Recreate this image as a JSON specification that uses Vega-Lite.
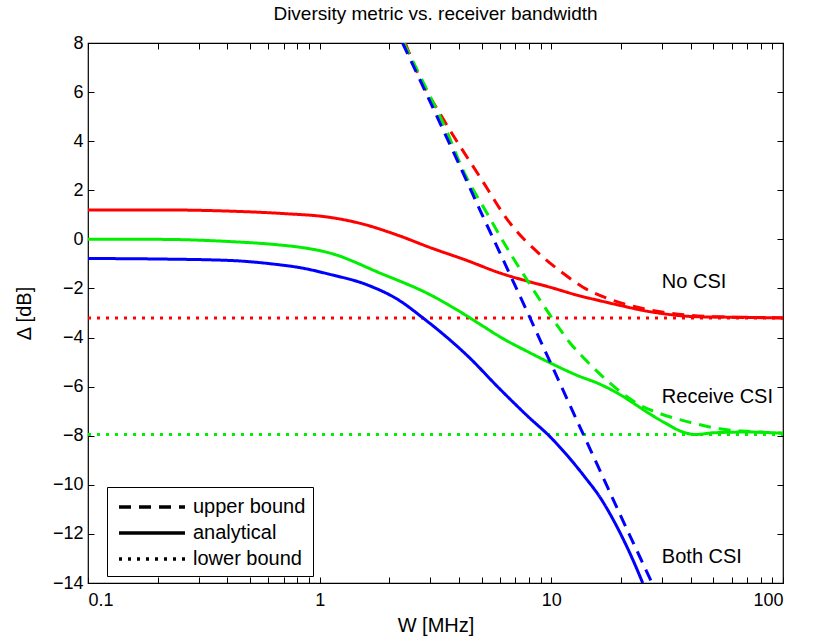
{
  "$schema": "https://vega.github.io/schema/vega-lite/v6.json",
  "width": 695,
  "height": 540,
  "autosize": {"type": "none"},
  "padding": {"left": 88, "top": 43, "right": 30, "bottom": 56},
  "background": "white",
  "config": {
    "font": "Liberation Sans",
    "view": {"stroke": "black", "strokeWidth": 1.2},
    "axis": {"domain": false, "grid": false, "tickColor": "black", "labelColor": "black", "titleColor": "black", "labelFont": "Liberation Sans", "titleFont": "Liberation Sans", "labelFontSize": 18, "titleFontSize": 20, "titleFontWeight": "normal", "tickSize": -6, "tickWidth": 1}
  },
  "title": {"text": "Diversity metric vs. receiver bandwidth", "fontSize": 19, "fontWeight": "normal", "font": "Liberation Sans", "color": "black", "offset": 10},
  "datasets": {
    "curves": [
      {"series": "No CSI", "type": "analytical", "x": 0.1, "y": 1.2},
      {"series": "No CSI", "type": "analytical", "x": 0.2, "y": 1.2},
      {"series": "No CSI", "type": "analytical", "x": 0.41, "y": 1.15},
      {"series": "No CSI", "type": "analytical", "x": 0.7, "y": 1.05},
      {"series": "No CSI", "type": "analytical", "x": 1.1, "y": 0.9},
      {"series": "No CSI", "type": "analytical", "x": 1.5, "y": 0.65},
      {"series": "No CSI", "type": "analytical", "x": 2.2, "y": 0.15},
      {"series": "No CSI", "type": "analytical", "x": 2.99, "y": -0.33},
      {"series": "No CSI", "type": "analytical", "x": 4.32, "y": -0.86},
      {"series": "No CSI", "type": "analytical", "x": 6.0, "y": -1.37},
      {"series": "No CSI", "type": "analytical", "x": 8.0, "y": -1.72},
      {"series": "No CSI", "type": "analytical", "x": 9.87, "y": -1.95},
      {"series": "No CSI", "type": "analytical", "x": 13, "y": -2.28},
      {"series": "No CSI", "type": "analytical", "x": 16.2, "y": -2.5},
      {"series": "No CSI", "type": "analytical", "x": 20, "y": -2.7},
      {"series": "No CSI", "type": "analytical", "x": 25, "y": -2.9},
      {"series": "No CSI", "type": "analytical", "x": 30, "y": -3.02},
      {"series": "No CSI", "type": "analytical", "x": 37, "y": -3.12},
      {"series": "No CSI", "type": "analytical", "x": 45, "y": -3.16},
      {"series": "No CSI", "type": "analytical", "x": 60, "y": -3.17},
      {"series": "No CSI", "type": "analytical", "x": 100, "y": -3.2},

      {"series": "No CSI", "type": "upper bound", "x": 2.34, "y": 8},
      {"series": "No CSI", "type": "upper bound", "x": 2.7, "y": 6.6},
      {"series": "No CSI", "type": "upper bound", "x": 3.37, "y": 4.99},
      {"series": "No CSI", "type": "upper bound", "x": 4.92, "y": 2.54},
      {"series": "No CSI", "type": "upper bound", "x": 6.62, "y": 0.67},
      {"series": "No CSI", "type": "upper bound", "x": 9.2, "y": -0.72},
      {"series": "No CSI", "type": "upper bound", "x": 11.2, "y": -1.37},
      {"series": "No CSI", "type": "upper bound", "x": 13.7, "y": -1.95},
      {"series": "No CSI", "type": "upper bound", "x": 17.4, "y": -2.4},
      {"series": "No CSI", "type": "upper bound", "x": 22, "y": -2.7},
      {"series": "No CSI", "type": "upper bound", "x": 30, "y": -2.96},
      {"series": "No CSI", "type": "upper bound", "x": 40, "y": -3.1},
      {"series": "No CSI", "type": "upper bound", "x": 60, "y": -3.17},
      {"series": "No CSI", "type": "upper bound", "x": 100, "y": -3.2},

      {"series": "No CSI", "type": "lower bound", "x": 0.1, "y": -3.2},
      {"series": "No CSI", "type": "lower bound", "x": 100, "y": -3.2},

      {"series": "Receive CSI", "type": "analytical", "x": 0.1, "y": 0},
      {"series": "Receive CSI", "type": "analytical", "x": 0.2, "y": 0},
      {"series": "Receive CSI", "type": "analytical", "x": 0.41, "y": -0.09},
      {"series": "Receive CSI", "type": "analytical", "x": 0.675, "y": -0.23},
      {"series": "Receive CSI", "type": "analytical", "x": 0.82, "y": -0.32},
      {"series": "Receive CSI", "type": "analytical", "x": 1.1, "y": -0.55},
      {"series": "Receive CSI", "type": "analytical", "x": 1.85, "y": -1.4},
      {"series": "Receive CSI", "type": "analytical", "x": 2.99, "y": -2.25},
      {"series": "Receive CSI", "type": "analytical", "x": 4.04, "y": -2.95},
      {"series": "Receive CSI", "type": "analytical", "x": 5.0, "y": -3.5},
      {"series": "Receive CSI", "type": "analytical", "x": 6.0, "y": -3.97},
      {"series": "Receive CSI", "type": "analytical", "x": 8.0, "y": -4.6},
      {"series": "Receive CSI", "type": "analytical", "x": 9.87, "y": -5.03},
      {"series": "Receive CSI", "type": "analytical", "x": 13, "y": -5.55},
      {"series": "Receive CSI", "type": "analytical", "x": 16.2, "y": -5.9},
      {"series": "Receive CSI", "type": "analytical", "x": 20, "y": -6.35},
      {"series": "Receive CSI", "type": "analytical", "x": 22.5, "y": -6.66},
      {"series": "Receive CSI", "type": "analytical", "x": 26, "y": -7.05},
      {"series": "Receive CSI", "type": "analytical", "x": 31, "y": -7.48},
      {"series": "Receive CSI", "type": "analytical", "x": 37, "y": -7.85},
      {"series": "Receive CSI", "type": "analytical", "x": 42, "y": -7.95},
      {"series": "Receive CSI", "type": "analytical", "x": 50, "y": -7.88},
      {"series": "Receive CSI", "type": "analytical", "x": 70, "y": -7.85},
      {"series": "Receive CSI", "type": "analytical", "x": 100, "y": -7.9},

      {"series": "Receive CSI", "type": "upper bound", "x": 2.31, "y": 8},
      {"series": "Receive CSI", "type": "upper bound", "x": 2.9, "y": 6.1},
      {"series": "Receive CSI", "type": "upper bound", "x": 3.54, "y": 4.4},
      {"series": "Receive CSI", "type": "upper bound", "x": 4.15, "y": 2.83},
      {"series": "Receive CSI", "type": "upper bound", "x": 5.27, "y": 1.07},
      {"series": "Receive CSI", "type": "upper bound", "x": 6.83, "y": -0.75},
      {"series": "Receive CSI", "type": "upper bound", "x": 7.85, "y": -1.65},
      {"series": "Receive CSI", "type": "upper bound", "x": 8.93, "y": -2.47},
      {"series": "Receive CSI", "type": "upper bound", "x": 10.6, "y": -3.5},
      {"series": "Receive CSI", "type": "upper bound", "x": 12.0, "y": -4.2},
      {"series": "Receive CSI", "type": "upper bound", "x": 14.2, "y": -4.95},
      {"series": "Receive CSI", "type": "upper bound", "x": 16.7, "y": -5.6},
      {"series": "Receive CSI", "type": "upper bound", "x": 19.8, "y": -6.2},
      {"series": "Receive CSI", "type": "upper bound", "x": 24.1, "y": -6.75},
      {"series": "Receive CSI", "type": "upper bound", "x": 29.5, "y": -7.1},
      {"series": "Receive CSI", "type": "upper bound", "x": 40.8, "y": -7.48},
      {"series": "Receive CSI", "type": "upper bound", "x": 53.4, "y": -7.72},
      {"series": "Receive CSI", "type": "upper bound", "x": 79.4, "y": -7.85},
      {"series": "Receive CSI", "type": "upper bound", "x": 100, "y": -7.9},

      {"series": "Receive CSI", "type": "lower bound", "x": 0.1, "y": -7.95},
      {"series": "Receive CSI", "type": "lower bound", "x": 100, "y": -7.95},

      {"series": "Both CSI", "type": "analytical", "x": 0.1, "y": -0.78},
      {"series": "Both CSI", "type": "analytical", "x": 0.2, "y": -0.8},
      {"series": "Both CSI", "type": "analytical", "x": 0.41, "y": -0.86},
      {"series": "Both CSI", "type": "analytical", "x": 0.675, "y": -1.04},
      {"series": "Both CSI", "type": "analytical", "x": 0.82, "y": -1.15},
      {"series": "Both CSI", "type": "analytical", "x": 1.1, "y": -1.42},
      {"series": "Both CSI", "type": "analytical", "x": 1.6, "y": -1.85},
      {"series": "Both CSI", "type": "analytical", "x": 2.2, "y": -2.48},
      {"series": "Both CSI", "type": "analytical", "x": 2.79, "y": -3.2},
      {"series": "Both CSI", "type": "analytical", "x": 3.5, "y": -3.95},
      {"series": "Both CSI", "type": "analytical", "x": 4.32, "y": -4.72},
      {"series": "Both CSI", "type": "analytical", "x": 6.0, "y": -6.1},
      {"series": "Both CSI", "type": "analytical", "x": 8.0, "y": -7.25},
      {"series": "Both CSI", "type": "analytical", "x": 9.87, "y": -8.04},
      {"series": "Both CSI", "type": "analytical", "x": 11.7, "y": -8.8},
      {"series": "Both CSI", "type": "analytical", "x": 14, "y": -9.7},
      {"series": "Both CSI", "type": "analytical", "x": 16.2, "y": -10.5},
      {"series": "Both CSI", "type": "analytical", "x": 19.2, "y": -11.71},
      {"series": "Both CSI", "type": "analytical", "x": 22.5, "y": -13.06},
      {"series": "Both CSI", "type": "analytical", "x": 24.8, "y": -14},

      {"series": "Both CSI", "type": "upper bound", "x": 2.28, "y": 8},
      {"series": "Both CSI", "type": "upper bound", "x": 3, "y": 5.6},
      {"series": "Both CSI", "type": "upper bound", "x": 4, "y": 3.05},
      {"series": "Both CSI", "type": "upper bound", "x": 5, "y": 1.05},
      {"series": "Both CSI", "type": "upper bound", "x": 6, "y": -0.55},
      {"series": "Both CSI", "type": "upper bound", "x": 8, "y": -3.1},
      {"series": "Both CSI", "type": "upper bound", "x": 10, "y": -5.1},
      {"series": "Both CSI", "type": "upper bound", "x": 13, "y": -7.45},
      {"series": "Both CSI", "type": "upper bound", "x": 16, "y": -9.3},
      {"series": "Both CSI", "type": "upper bound", "x": 20, "y": -11.3},
      {"series": "Both CSI", "type": "upper bound", "x": 24, "y": -12.9},
      {"series": "Both CSI", "type": "upper bound", "x": 27.2, "y": -14}
    ],
    "labels": [
      {"x": 30, "y": -1.74, "label": "No CSI"},
      {"x": 30, "y": -6.42, "label": "Receive CSI"},
      {"x": 30, "y": -12.94, "label": "Both CSI"}
    ]
  },
  "layer": [
    {
      "data": {"name": "curves"},
      "mark": {"type": "line", "strokeWidth": 3, "clip": true, "interpolate": "monotone"},
      "encoding": {
        "x": {"field": "x", "type": "quantitative",
              "scale": {"type": "log", "domain": [0.1, 100], "nice": false},
              "axis": {"title": "W [MHz]", "titlePadding": 6, "labelPadding": 14,
                       "values": [0.1,0.2,0.3,0.4,0.5,0.6,0.7,0.8,0.9,1,2,3,4,5,6,7,8,9,10,20,30,40,50,60,70,80,90,100],
                       "labelExpr": "indexof([0.1,1,10,100], datum.value) >= 0 ? (datum.value == 0.1 ? '0.1' : format(datum.value, 'd')) : ''"}},
        "y": {"field": "y", "type": "quantitative",
              "scale": {"domain": [-14, 8], "nice": false, "zero": false},
              "axis": {"title": "Δ [dB]", "titlePadding": 18, "labelPadding": 11,
                       "values": [-14,-12,-10,-8,-6,-4,-2,0,2,4,6,8]}},
        "color": {"field": "series", "type": "nominal",
                  "scale": {"domain": ["No CSI", "Receive CSI", "Both CSI"], "range": ["#ff0000", "#00ee00", "#0000ff"]},
                  "legend": null},
        "strokeDash": {"field": "type", "type": "nominal",
                  "scale": {"domain": ["upper bound", "analytical", "lower bound"], "range": [[12, 8], [1, 0], [3, 6]]},
                  "legend": {"title": null, "orient": "none", "legendX": 19, "legendY": 444,
                             "strokeColor": "black", "fillColor": "white", "padding": 7,
                             "symbolStrokeColor": "black", "symbolStrokeWidth": 3.5,
                             "symbolType": "M-3,0L3,0", "symbolSize": 484, "symbolOffset": 25,
                             "labelFontSize": 20, "labelFont": "Liberation Sans",
                             "labelColor": "black", "rowPadding": 3, "labelOffset": 28, "cornerRadius": 0}}
      }
    },
    {
      "data": {"name": "labels"},
      "mark": {"type": "text", "align": "left", "baseline": "middle", "fontSize": 20, "font": "Liberation Sans", "color": "black"},
      "encoding": {
        "x": {"field": "x", "type": "quantitative", "axis": null},
        "y": {"field": "y", "type": "quantitative", "axis": null},
        "text": {"field": "label"}
      }
    },
    {
      "data": {"name": "curves"},
      "mark": {"type": "point", "opacity": 0},
      "encoding": {
        "x": {"field": "x", "type": "quantitative",
              "axis": {"orient": "top", "title": null, "labels": false,
                       "values": [0.1,0.2,0.3,0.4,0.5,0.6,0.7,0.8,0.9,1,2,3,4,5,6,7,8,9,10,20,30,40,50,60,70,80,90,100]}},
        "y": {"field": "y", "type": "quantitative",
              "axis": {"orient": "right", "title": null, "labels": false,
                       "values": [-14,-12,-10,-8,-6,-4,-2,0,2,4,6,8]}}
      }
    }
  ],
  "resolve": {"axis": {"x": "independent", "y": "independent"}}
}
